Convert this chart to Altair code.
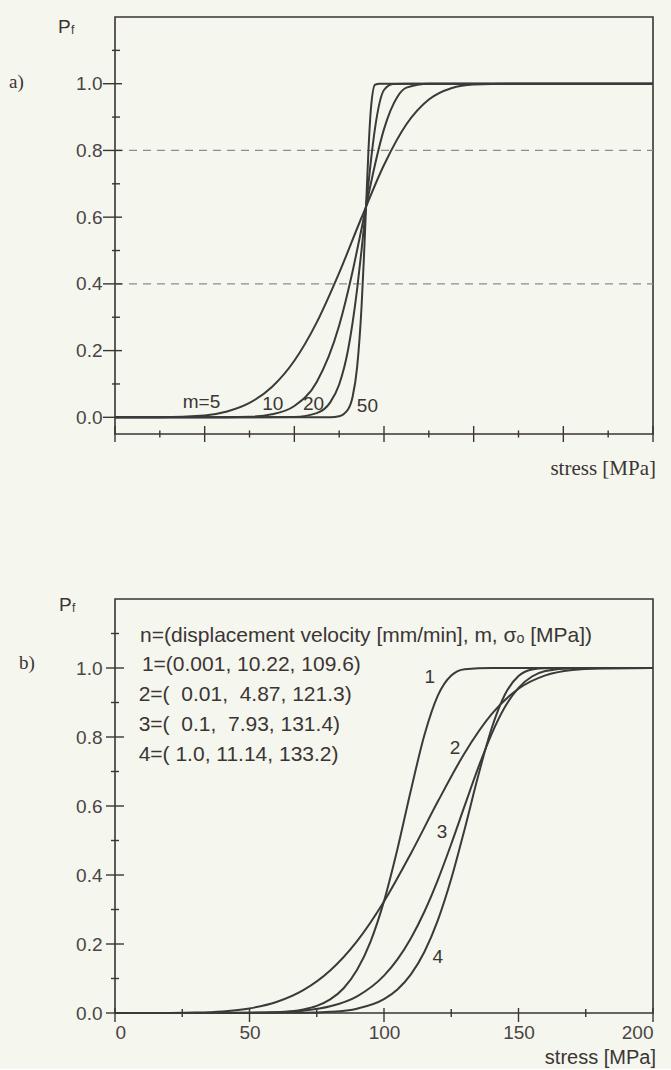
import altair as alt
import pandas as pd

# ---------------- panel a) : Weibull curves for several moduli m ----------------
a_m_values = [5, 10, 20, 50]
a_m5_x = [0, 10, 20, 25, 30, 35, 40, 45, 50, 55, 60, 65, 70, 75, 80, 90, 120]
a_m5_p = [0, 0.0002, 0.0058, 0.0176, 0.0432, 0.091, 0.1697, 0.2847, 0.433, 0.599,
          0.7563, 0.8784, 0.9527, 0.9866, 0.9974, 1.0, 1.0]
a_m10_x = [0, 20, 30, 35, 40, 45, 50, 53, 55, 56, 58, 60, 63, 65, 70, 120]
a_m10_p = [0, 0, 0.0019, 0.0091, 0.034, 0.1062, 0.2753, 0.438, 0.566, 0.632, 0.758,
           0.8638, 0.961, 0.9882, 0.9999, 1.0]
a_m20_x = [0, 30, 40, 45, 48, 50, 52, 54, 55, 56, 57, 58, 60, 62, 65, 120]
a_m20_p = [0, 0, 0.0012, 0.0125, 0.0448, 0.0985, 0.2032, 0.3832, 0.5021, 0.632, 0.7595,
           0.867, 0.9812, 0.9995, 1.0, 1.0]
a_m50_x = [0, 45, 48, 50, 52, 53, 54, 55, 55.5, 56, 56.5, 57, 58, 59, 60, 120]
a_m50_p = [0, 0, 0.0004, 0.0035, 0.0243, 0.0617, 0.1498, 0.3338, 0.472, 0.632, 0.7898,
           0.9114, 0.9969, 1.0, 1.0, 1.0]

a_dash_levels = [0.4, 0.8]
a_y_major = [0.0, 0.2, 0.4, 0.6, 0.8, 1.0]
a_y_minor = [0.1, 0.3, 0.5, 0.7, 0.9, 1.1]
a_x_major = [0, 20, 40, 60, 80, 100, 120]
a_x_minor = [10, 30, 50, 70, 90, 110]

a_label_text = ["m=5", "10", "20", "50"]
a_label_x = [19.3, 35.2, 44.3, 56.3]
a_label_y = [0.047, 0.040, 0.040, 0.033]

# ---------------- panel b) : four measured displacement velocities ----------------
b_c1_x = [0, 50, 60, 70, 75, 80, 85, 90, 95, 100, 105, 110, 115, 120, 125, 130, 140, 200]
b_c1_p = [0, 0.0003, 0.0021, 0.0102, 0.0205, 0.0393, 0.0717, 0.1251, 0.2071, 0.3242,
          0.4754, 0.6458, 0.8051, 0.9200, 0.9784, 0.9967, 1.0, 1.0]
b_c2_x = [0, 20, 30, 40, 50, 60, 70, 80, 90, 100, 110, 120, 130, 140, 150, 160, 170, 180, 200]
b_c2_p = [0, 0.0002, 0.0011, 0.0045, 0.0133, 0.0319, 0.0664, 0.1234, 0.2085, 0.3233,
          0.4626, 0.6128, 0.7537, 0.8660, 0.9400, 0.9787, 0.9943, 0.9989, 1.0]
b_c3_x = [0, 50, 60, 70, 80, 90, 100, 105, 110, 115, 120, 125, 130, 135, 140, 145, 150,
          155, 160, 170, 200]
b_c3_p = [0, 0.0005, 0.0020, 0.0068, 0.0194, 0.0485, 0.1084, 0.1553, 0.2167, 0.2936,
          0.3854, 0.4899, 0.6009, 0.7104, 0.8085, 0.8874, 0.9426, 0.9754, 0.9915, 0.9996, 1.0]
b_c4_x = [0, 70, 80, 90, 100, 105, 110, 115, 120, 125, 130, 135, 140, 145, 150, 155, 160, 200]
b_c4_p = [0, 0.0008, 0.0034, 0.0126, 0.0402, 0.0682, 0.1119, 0.1769, 0.2684, 0.3889,
          0.5336, 0.6869, 0.8247, 0.9238, 0.9766, 0.9955, 0.9996, 1.0]

b_y_major = [0.0, 0.2, 0.4, 0.6, 0.8, 1.0]
b_y_minor = [0.1, 0.3, 0.5, 0.7, 0.9, 1.1]
b_x_major = [0, 50, 100, 150, 200]
b_x_minor = [25, 75, 125, 175]

b_label_text = ["1", "2", "3", "4"]
b_label_x = [117.0, 126.4, 121.6, 120.0]
b_label_y = [0.974, 0.768, 0.526, 0.163]

NB = "\u00a0"
b_legend_lines = [
    "n=(displacement velocity [mm/min], m, \u03c3\u2092 [MPa])",
    "1=(0.001, 10.22, 109.6)",
    "2=(" + NB * 2 + "0.01," + NB * 2 + "4.87, 121.3)",
    "3=(" + NB * 2 + "0.1," + NB * 2 + "7.93, 131.4)",
    "4=(" + NB + "1.0, 11.14, 133.2)",
]
b_legend_x = [9.3, 10.0, 8.8, 8.8, 8.8]
b_legend_y = [1.093, 1.010, 0.922, 0.835, 0.748]

x_title = "stress [MPa]"
y_symbol = "P"
y_symbol_sub = "f"
panel_tags = ["a)", "b)"]

# ---------------- styling ----------------
BG = "#f5f6ee"
INK = "#3b3535"
CURVE = "#3a3a3a"
DASH = "#8c8c8c"
SANS = "Liberation Sans"
SERIF = "Liberation Serif"

WA, HA = 538, 417
WB, HB = 538, 414


def curve_frame(names, xs, ps):
    rows = []
    for n, xl, pl in zip(names, xs, ps):
        for x, p in zip(xl, pl):
            rows.append({"stress": x, "pf": p, "curve": str(n)})
    return pd.DataFrame(rows)


def ticks_y(enc_y, values, x1, x2, width=1.4):
    return alt.Chart(pd.DataFrame({"pf": values})).mark_rule(
        color=INK, strokeWidth=width).encode(y=enc_y, x=alt.value(x1), x2=alt.value(x2))


def ticks_x(enc_x, values, y1, y2, width=1.4):
    return alt.Chart(pd.DataFrame({"stress": values})).mark_rule(
        color=INK, strokeWidth=width).encode(x=enc_x, y=alt.value(y1), y2=alt.value(y2))


def text_at(txt, x, y, size, font, align="left", baseline="middle"):
    return alt.Chart(pd.DataFrame({"t": [txt]})).mark_text(
        align=align, baseline=baseline, font=font, fontSize=size, color=INK
    ).encode(text="t:N", x=alt.value(x), y=alt.value(y))


# ---------------- panel a ----------------
XA = alt.X("stress:Q", scale=alt.Scale(domain=[0, 120], nice=False, zero=False), axis=None)
YA = alt.Y("pf:Q", scale=alt.Scale(domain=[-0.05, 1.2], nice=False, zero=False),
           axis=alt.Axis(values=a_y_major, format=".1f", ticks=False, domain=False, grid=False,
                         labelPadding=13, title=None, labelFont=SANS, labelFontSize=19,
                         labelColor="#4a4444"))

df_a = curve_frame(a_m_values, [a_m5_x, a_m10_x, a_m20_x, a_m50_x],
                   [a_m5_p, a_m10_p, a_m20_p, a_m50_p])

a_dash = alt.Chart(pd.DataFrame({"pf": a_dash_levels})).mark_rule(
    color=DASH, strokeWidth=1.3, strokeDash=[8, 6]).encode(
    y=YA, x=alt.value(0), x2=alt.value(WA))
a_lines = alt.Chart(df_a).mark_line(
    color=CURVE, strokeWidth=2.0, interpolate="monotone").encode(
    x=XA, y=YA, detail="curve:N")
a_labels = alt.Chart(pd.DataFrame({"stress": a_label_x, "pf": a_label_y, "t": a_label_text})).mark_text(
    font=SANS, fontSize=19, color=INK, align="center", baseline="middle").encode(
    x=XA, y=YA, text="t:N")

panel_a = alt.layer(
    a_dash, a_lines, a_labels,
    ticks_y(YA, a_y_major, -12, 7), ticks_y(YA, a_y_minor, -3, 5),
    ticks_x(XA, a_x_major, HA - 8, HA + 8), ticks_x(XA, a_x_minor, HA - 3.5, HA + 3.5),
    text_at(y_symbol, -57, 1, 19, SANS, baseline="top"),
    text_at(y_symbol_sub, -44, 13, 12, SANS),
    text_at(panel_tags[0], -106, 65, 19, SERIF),
    text_at(x_title, WA + 3, HA + 35, 21, SERIF, align="right"),
).properties(width=WA, height=HA)

# ---------------- panel b ----------------
XB = alt.X("stress:Q", scale=alt.Scale(domain=[0, 200], nice=False, zero=False),
           axis=alt.Axis(values=b_x_major, format="d", ticks=False, domain=False, grid=False,
                         labelPadding=10, title=None, labelFont=SANS, labelFontSize=19,
                         labelColor="#4a4444"))
YB = alt.Y("pf:Q", scale=alt.Scale(domain=[0, 1.2], nice=False, zero=False),
           axis=alt.Axis(values=b_y_major, format=".1f", ticks=False, domain=False, grid=False,
                         labelPadding=13, title=None, labelFont=SANS, labelFontSize=19,
                         labelColor="#4a4444"))

df_b = curve_frame(b_label_text, [b_c1_x, b_c2_x, b_c3_x, b_c4_x],
                   [b_c1_p, b_c2_p, b_c3_p, b_c4_p])

b_lines = alt.Chart(df_b).mark_line(
    color=CURVE, strokeWidth=2.0, interpolate="monotone").encode(
    x=XB, y=YB, detail="curve:N")
b_labels = alt.Chart(pd.DataFrame({"stress": b_label_x, "pf": b_label_y, "t": b_label_text})).mark_text(
    font=SANS, fontSize=19, color=INK, align="center", baseline="middle").encode(
    x=XB, y=YB, text="t:N")
b_legend = alt.Chart(pd.DataFrame({"stress": b_legend_x, "pf": b_legend_y, "t": b_legend_lines})).mark_text(
    font=SANS, fontSize=21, color=INK, align="left", baseline="middle").encode(
    x=XB, y=YB, text="t:N")

panel_b = alt.layer(
    b_lines, b_labels, b_legend,
    ticks_y(YB, b_y_major, -9, 9), ticks_y(YB, b_y_minor, -4, 4),
    ticks_x(XB, b_x_major, HB - 5, HB + 9), ticks_x(XB, b_x_minor, HB - 4, HB + 4),
    text_at(y_symbol, -56, -3, 19, SANS, baseline="top"),
    text_at(y_symbol_sub, -43, 9, 12, SANS),
    text_at(panel_tags[1], -96, 64, 19, SERIF),
    text_at(x_title, WB + 3, HB + 45, 20, SANS, align="right"),
).properties(width=WB, height=HB)

chart = alt.vconcat(panel_a, panel_b, spacing=165, bounds="flush").properties(
    padding={"left": 8, "top": 16, "right": 13, "bottom": 0},
    background=BG,
).configure_view(stroke=INK, strokeWidth=1.6)

chart.save("out.html", embed_options={"renderer": "svg", "actions": False})
